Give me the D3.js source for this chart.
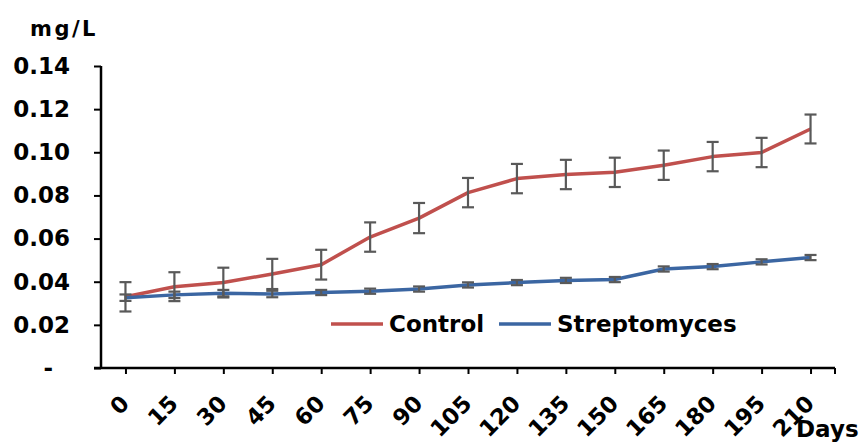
<!DOCTYPE html>
<html>
<head>
<meta charset="utf-8">
<script src="https://cdn.jsdelivr.net/npm/d3@7"></script>
<style>
  html, body { margin: 0; padding: 0; background: #fff; }
  svg { display: block; font-family: "DejaVu Sans", Verdana, sans-serif; font-weight: bold; }
</style>
</head>
<body>
<svg id="chart" width="861" height="442"></svg>
<script>
// ---- data ----
const days = ["0","15","30","45","60","75","90","105","120","135","150","165","180","195","210"];
const controlValues = [0.0330, 0.0377, 0.0396, 0.0436, 0.0479, 0.0607, 0.0695, 0.0813, 0.0878, 0.0897, 0.0907, 0.0940, 0.0980, 0.0999, 0.1108];
const controlErrors = [0.0068, 0.0067, 0.0069, 0.0070, 0.0069, 0.0068, 0.0070, 0.0068, 0.0068, 0.0068, 0.0068, 0.0068, 0.0068, 0.0068, 0.0067];
const streptoValues = [0.0326, 0.0339, 0.0347, 0.0343, 0.0350, 0.0356, 0.0366, 0.0385, 0.0396, 0.0406, 0.0410, 0.0459, 0.0470, 0.0492, 0.0512];
const streptoErrors = [0.0015, 0.0015, 0.0015, 0.0015, 0.0012, 0.0012, 0.0012, 0.0012, 0.0012, 0.0012, 0.0012, 0.0012, 0.0012, 0.0012, 0.0012];
const yTicks = [0, 0.02, 0.04, 0.06, 0.08, 0.10, 0.12, 0.14];
const seriesNames = ["Control", "Streptomyces"];
const unitLabel = "mg/L";
const axisTitle = "Days";

const colors = { "Control": "#C0504D", "Streptomyces": "#3B66A2" };
const errColor = "#595959";

const svg = d3.select("#chart");
const plotLeft = 101, plotRight = 835, plotTop = 66, plotBottom = 368;

const x = d3.scalePoint().domain(days).range([plotLeft, plotRight]).padding(0.5);
const y = d3.scaleLinear().domain([0, 0.14]).range([plotBottom, plotTop]);

// y axis
const yAxis = svg.append("g").attr("transform", `translate(${plotLeft},0)`)
  .call(d3.axisLeft(y).tickValues(yTicks).tickSize(7).tickPadding(24)
    .tickFormat(d => d === 0 ? "-" : d3.format(".2f")(d)));
yAxis.select(".domain").remove();
yAxis.selectAll(".tick line").attr("stroke", "#000").attr("stroke-width", 2);
yAxis.selectAll(".tick text").attr("font-size", 23).attr("fill", "#000");
yAxis.selectAll(".tick").filter(d => d === 0).select("text").attr("x", -48);
yAxis.attr("font-family", null).attr("font-size", null);

// lines under error bars
const linesG = svg.append("g");
const errG = svg.append("g");

svg.append("line").attr("x1", plotLeft).attr("x2", plotLeft).attr("y1", y(0.14)).attr("y2", plotBottom)
  .attr("stroke", "#000").attr("stroke-width", 2.5);

// x axis
const xAxis = svg.append("g").attr("transform", `translate(0,${plotBottom})`)
  .call(d3.axisBottom(x).tickSize(6).tickFormat(""));
xAxis.select(".domain").remove();
xAxis.selectAll(".tick line").attr("stroke", "#000").attr("stroke-width", 2);
svg.append("line").attr("x1", plotLeft - 7).attr("x2", plotRight).attr("y1", plotBottom).attr("y2", plotBottom)
  .attr("stroke", "#000").attr("stroke-width", 2.5);
svg.append("line").attr("x1", plotRight).attr("x2", plotRight).attr("y1", plotBottom).attr("y2", plotBottom + 6)
  .attr("stroke", "#000").attr("stroke-width", 2);

// rotated x labels
svg.append("g").selectAll("text").data(days).join("text")
  .attr("transform", d => `translate(${x(d) + 5},${plotBottom + 37}) rotate(-45)`)
  .attr("text-anchor", "end")
  .attr("font-size", 22.5)
  .attr("fill", "#000")
  .text(d => d);

// titles
svg.append("text").attr("x", 30).attr("y", 36).attr("font-size", 21)
  .attr("letter-spacing", 2.5).attr("fill", "#000").text(unitLabel);
svg.append("text").attr("x", 796).attr("y", 437).attr("font-size", 23).attr("fill", "#000").text(axisTitle);

// series
const series = [
  { name: seriesNames[0], values: controlValues, errors: controlErrors },
  { name: seriesNames[1], values: streptoValues, errors: streptoErrors }
];

const line = d3.line().x((d, i) => x(days[i])).y(d => y(d));

series.forEach(s => {
  linesG.append("path").attr("d", line(s.values))
    .attr("fill", "none").attr("stroke", colors[s.name]).attr("stroke-width", 3.5)
    .attr("stroke-linejoin", "round");
});

// error bars
series.forEach(s => {
  const g = errG.append("g").attr("stroke", errColor).attr("stroke-width", 2.2).attr("fill", "none");
  s.values.forEach((v, i) => {
    const cx = x(days[i]);
    const y1 = y(v + s.errors[i]), y2 = y(v - s.errors[i]);
    g.append("line").attr("x1", cx).attr("x2", cx).attr("y1", y1).attr("y2", y2);
    g.append("line").attr("x1", cx - 6).attr("x2", cx + 6).attr("y1", y1).attr("y2", y1);
    g.append("line").attr("x1", cx - 6).attr("x2", cx + 6).attr("y1", y2).attr("y2", y2);
  });
});

// legend
const legendItems = [
  { name: seriesNames[0], x1: 331, x2: 383, tx: 389 },
  { name: seriesNames[1], x1: 499, x2: 551, tx: 557 }
];
const lg = svg.append("g");
legendItems.forEach(it => {
  lg.append("line").attr("x1", it.x1).attr("x2", it.x2).attr("y1", 324).attr("y2", 324)
    .attr("stroke", colors[it.name]).attr("stroke-width", 3.5);
  lg.append("text").attr("x", it.tx).attr("y", 332).attr("font-size", 23).attr("fill", "#000").text(it.name);
});
</script>
</body>
</html>
